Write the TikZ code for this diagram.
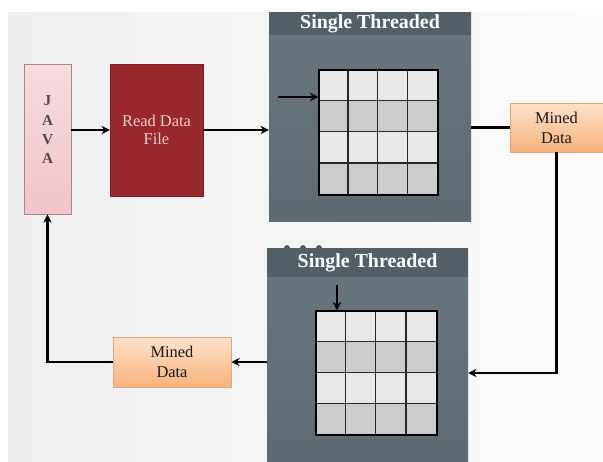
\documentclass[tikz,border=0pt]{standalone}
\usepackage{fontspec}
\setmainfont{Liberation Serif}
\usetikzlibrary{arrows.meta,calc}

\definecolor{paperleft}{RGB}{239,239,239}
\definecolor{paperright}{RGB}{251,251,251}
\definecolor{slate}{RGB}{104,118,126}
\definecolor{slatedark}{RGB}{82,95,103}
\definecolor{javapink}{RGB}{240,196,202}
\definecolor{javaedge}{RGB}{160,138,140}
\definecolor{readred}{RGB}{152,40,44}
\definecolor{readtext}{RGB}{244,206,206}
\definecolor{minedtop}{RGB}{253,226,202}
\definecolor{minedbot}{RGB}{248,178,124}
\definecolor{minededge}{RGB}{225,165,125}
\definecolor{cellhi}{RGB}{232,232,232}
\definecolor{celllo}{RGB}{204,204,204}

\begin{document}
\begin{tikzpicture}[x=0.3mm,y=-0.3mm,
  wire/.style={black,line width=1.8pt},
  flow/.style={wire,-{Stealth[length=7pt,width=7pt]}},
  javabox/.style={draw=javaedge,line width=0.8pt,top color=javapink!60!white,bottom color=javapink,minimum width=14.1mm,minimum height=45mm},
  jtext/.style={align=center,font=\fontsize{13}{16.5}\selectfont\bfseries,text=black!70},
  readbox/.style={fill=readred,draw=readred!80!black,align=center,text=readtext,font=\fontsize{14}{16}\selectfont,minimum width=27.9mm,minimum height=39.6mm},
  panel/.style={top color=slate,bottom color=slate!90!black,inner sep=0pt},
  header/.style={fill=slatedark,text=white,font=\fontsize{17}{17}\selectfont\bfseries,inner sep=0pt},
  gridbox/.style={draw=black,line width=1.3pt,inner sep=0pt},
  cell/.style={draw=black!85,line width=1pt},
  minedbox/.style={draw=minededge,line width=0.8pt,top color=minedtop,bottom color=minedbot,align=center,font=\fontsize{14}{17}\selectfont,text=black!90}]
\useasboundingbox (0,0) rectangle (603,461);
\fill [left color=paperleft,right color=paperright] (8,12) rectangle (603,461);

\node[javabox] (java) at (47.5,139) {};
\node[jtext] (javaword) at (47.5,130) {J\\A\\V\\A};
\node[readbox] (read) at (156.5,130) {Read Data\\File};

\node[panel,minimum width=60.6mm,minimum height=62.7mm] (st1) at (370,116.5) {};
\node[header,minimum width=60.6mm,minimum height=6.9mm,anchor=north] (st1head) at (st1.north) {Single Threaded};
\node[gridbox,minimum width=35.7mm,minimum height=37.5mm] (grid1) at (378.5,132.5) {};
\foreach \r/\col in {0/cellhi,1/celllo,2/cellhi,3/celllo}
  \foreach \c in {0,...,3}
    \filldraw[cell,fill=\col] ($(grid1.north west)+(\c*29.75,\r*31.25)$) rectangle +(29.75,31.25);
\node[gridbox,minimum width=35.7mm,minimum height=37.5mm] at (grid1) {};
\coordinate (in1) at (278,97);

\node[minedbox,minimum width=27.9mm,minimum height=14.7mm] (mined1) at (556.5,127.5) {Mined\\Data};

\foreach \dx in {287,303,319}
  \fill[slatedark] (\dx,248) circle (3);
\node[panel,minimum width=60.3mm,minimum height=63.9mm] (st2) at (367.5,354.5) {};
\node[header,minimum width=60.3mm,minimum height=8.7mm,anchor=north] (st2head) at (st2.north) {Single Threaded};
\node[gridbox,minimum width=36.3mm,minimum height=37.2mm] (grid2) at (376.5,373) {};
\foreach \r/\col in {0/cellhi,1/celllo,2/cellhi,3/celllo}
  \foreach \c in {0,...,3}
    \filldraw[cell,fill=\col] ($(grid2.north west)+(\c*30.25,\r*31)$) rectangle +(30.25,31);
\node[gridbox,minimum width=36.3mm,minimum height=37.2mm] at (grid2) {};
\coordinate (in2) at (337,285);

\node[minedbox,minimum width=35.4mm,minimum height=15mm] (mined2) at (172,362) {Mined\\Data};

\draw[flow] (java.east |- read.west) -- (read.west);
\draw[flow] (read.east) -- (read.east -| st1.west);
\draw[flow] (in1) -- (in1 -| grid1.west);
\draw[wire] (st1.east |- mined1.west) -- (mined1.west);
\draw[flow] (mined1.south) |- (st2.east |- grid2.center);
\draw[flow] (in2) -- (in2 |- grid2.north);
\draw[flow] (st2.west |- mined2.east) -- (mined2.east);
\draw[flow] (mined2.west) -| (java.south);
\end{tikzpicture}
\end{document}
